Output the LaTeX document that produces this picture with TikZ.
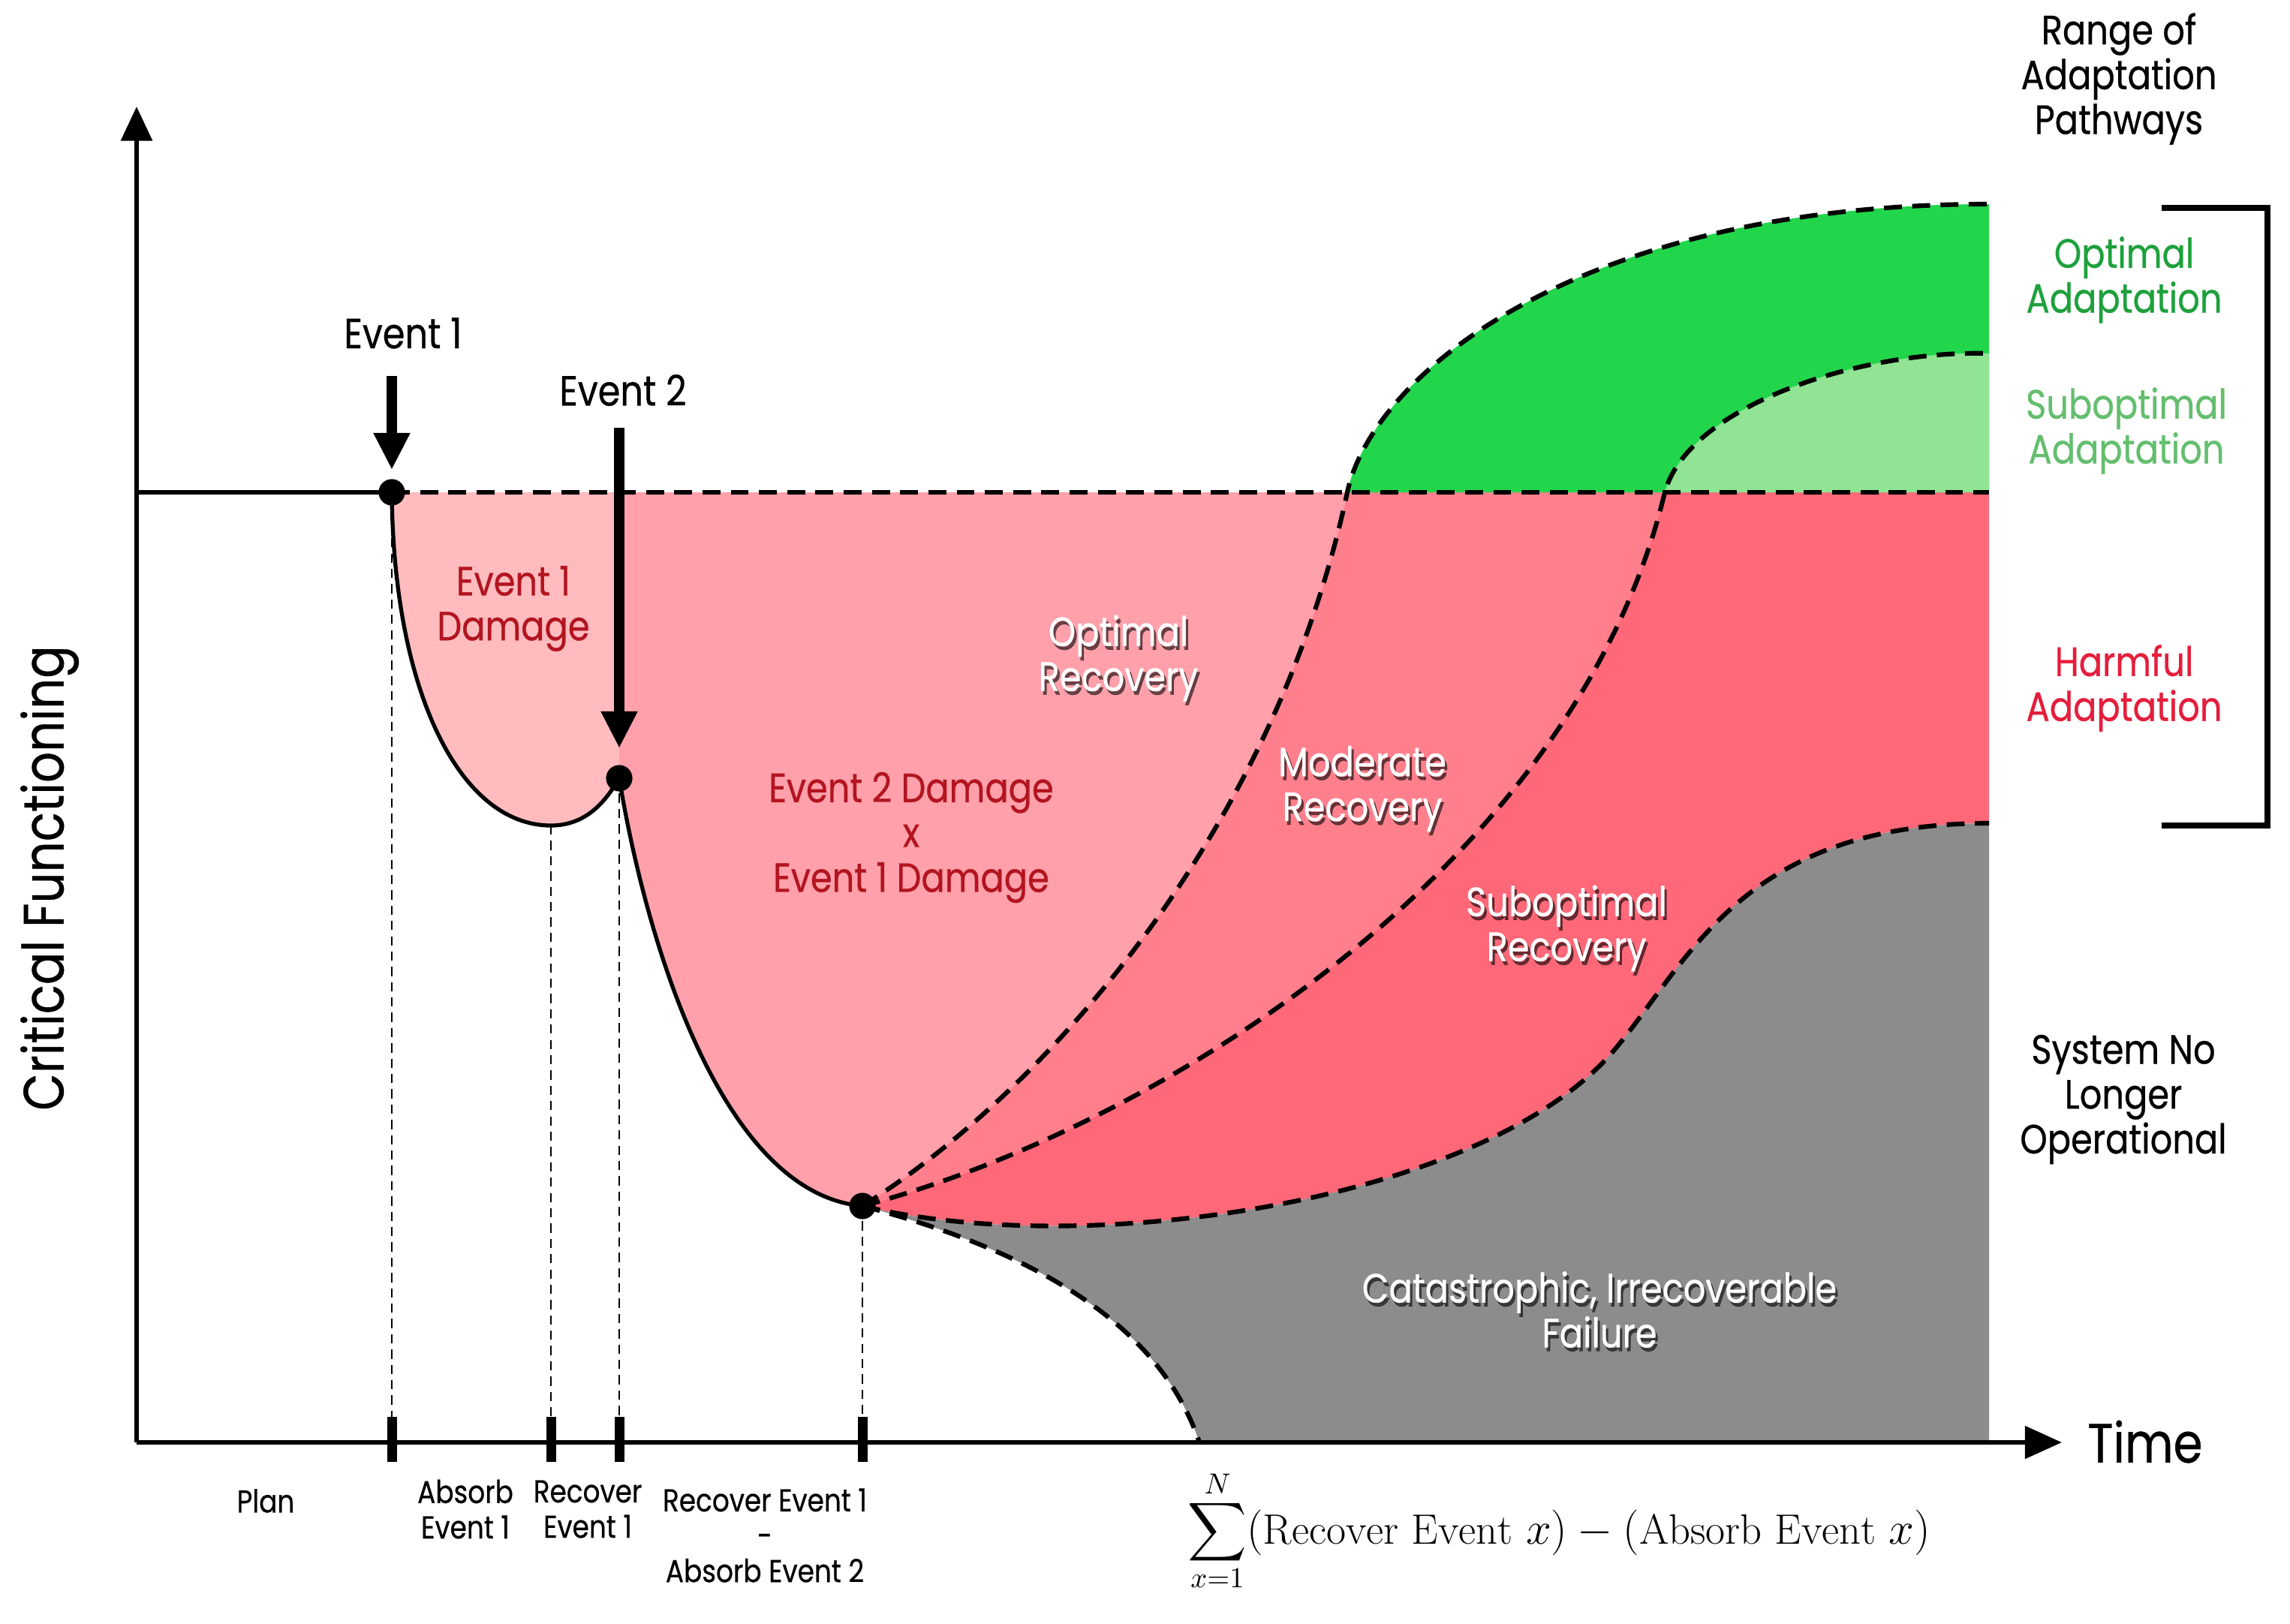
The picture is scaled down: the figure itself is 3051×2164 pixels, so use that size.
\documentclass[tikz,border=0pt]{standalone}
\usepackage{fontspec}
\newfontfamily\fut[FakeStretch=0.85,FakeBold=0.5]{Poppins}
\usetikzlibrary{arrows.meta,calc}
\definecolor{pinkA}{RGB}{255,187,190}
\definecolor{pinkB}{RGB}{255,160,170}
\definecolor{pinkC}{RGB}{255,128,140}
\definecolor{pinkD}{RGB}{255,104,120}
\definecolor{greenA}{RGB}{34,214,76}
\definecolor{greenB}{RGB}{144,228,148}
\definecolor{greyA}{RGB}{140,140,140}
\definecolor{dred}{RGB}{178,20,32}
\definecolor{hred}{RGB}{228,30,60}
\definecolor{ogreen}{RGB}{30,160,60}
\definecolor{sgreen}{RGB}{100,190,110}
\newcommand\shadowlabel[3]{%
  \node[wtxt,text=black,opacity=0.6] (#1s) at ($(#2)+(3,5)$) {#3};
  \node[wtxt] (#1) at (#2) {#3};}
\begin{document}
\begin{tikzpicture}[x=0.01cm,y=-0.01cm,
  txt/.style={font=\fut\fontsize{15.5}{17}\selectfont,align=center,inner sep=0pt},
  wtxt/.style={txt,text=white},
  small/.style={font=\fut\fontsize{12}{13.4}\selectfont,align=center,inner sep=0pt},
  dcurve/.style={line width=1.75pt,dash pattern=on 6.8pt off 3.9pt},
  scurve/.style={line width=1.5pt},
  vguide/.style={line width=0.7pt,dash pattern=on 3.5pt off 2.3pt},
  axisline/.style={line width=1.7pt},
  tickmark/.style={line width=3.7pt},
  evarrow/.style={line width=4pt,-{Triangle[width=13pt,length=14pt]}},
  pt/.style={circle,fill=black,inner sep=0pt,minimum size=10pt}]
\useasboundingbox (0,0) rectangle (3051,2164);
% coordinates
\coordinate (B0) at (182,656);
\coordinate (X0) at (182,1922);
\coordinate (Ytip) at (182,142);
\coordinate (Xtip) at (2747,1922);
\coordinate (E1c) at (522,656);
\coordinate (Emin) at (734,1100);
\coordinate (E2c) at (825,1037);
\coordinate (E2top) at (825,656);
\coordinate (E3c) at (1149,1607);
\coordinate (O) at (1795,656);
\coordinate (OT) at (2650,272);
\coordinate (M) at (2218,656);
\coordinate (MT) at (2650,471);
\coordinate (SI) at (2150,1400);
\coordinate (S) at (2650,1097);
\coordinate (RB) at (2650,656);
\coordinate (RX) at (2650,1922);
\coordinate (C) at (1598,1922);
% fills
\fill[pinkA] (E1c) .. controls (524,920) and (612,1100) .. (Emin)
  .. controls (785,1100) and (810,1062) .. (E2c) -- (E2top) -- cycle;
\fill[pinkB] (E2top) -- (E2c) .. controls (860,1250) and (960,1590) .. (E3c)
  .. controls (1400,1450) and (1700,1100) .. (O) -- cycle;
\fill[pinkC] (E3c) .. controls (1400,1450) and (1700,1100) .. (O) -- (M)
  .. controls (2100,1150) and (1550,1500) .. (E3c) -- cycle;
\fill[pinkD] (E3c) .. controls (1550,1500) and (2100,1150) .. (M) -- (RB) -- (S)
  .. controls (2320,1097) and (2250,1282) .. (SI)
  .. controls (1980,1600) and (1450,1680) .. (E3c) -- cycle;
\fill[greyA] (E3c) .. controls (1450,1680) and (1980,1600) .. (SI)
  .. controls (2250,1282) and (2320,1097) .. (S) -- (RX) -- (C)
  .. controls (1540,1750) and (1350,1660) .. (E3c) -- cycle;
\fill[greenA] (O) .. controls (1828,501) and (2100,272) .. (OT) -- (RB) -- cycle;
\fill[greenB] (M) .. controls (2250,540) and (2480,466) .. (MT) -- (RB) -- cycle;
% dashed curves
\draw[dcurve] (E1c) -- (RB);
\draw[dcurve] (E3c) .. controls (1400,1450) and (1700,1100) .. (O)
  .. controls (1828,501) and (2100,272) .. (OT);
\draw[dcurve] (E3c) .. controls (1550,1500) and (2100,1150) .. (M)
  .. controls (2250,540) and (2480,466) .. (MT);
\draw[dcurve] (E3c) .. controls (1450,1680) and (1980,1600) .. (SI)
  .. controls (2250,1282) and (2320,1097) .. (S);
\draw[dcurve] (E3c) .. controls (1350,1660) and (1540,1750) .. (C);
% solid curves
\draw[scurve] (B0) -- (E1c);
\draw[scurve] (E1c) .. controls (524,920) and (612,1100) .. (Emin)
  .. controls (785,1100) and (810,1062) .. (E2c)
  .. controls (860,1250) and (960,1590) .. (E3c);
% guides
\draw[vguide] (E1c) -- (E1c |- X0);
\draw[vguide] (Emin) -- (Emin |- X0);
\draw[vguide] (E2c) -- (E2c |- X0);
\draw[vguide] (E3c) -- (E3c |- X0);
% axes
\draw[axisline,-{Triangle[width=11.7pt,length=13pt]}] (X0) -- (Ytip);
\draw[axisline,-{Triangle[width=12.2pt,length=14pt]}] (X0) -- (Xtip);
\foreach \c in {E1c,Emin,E2c,E3c}
  \draw[tickmark] ($(\c |- X0)+(0,-34)$) -- ($(\c |- X0)+(0,26)$);
% points
\node[pt] (E1) at (E1c) {};
\node[pt] (E2) at (E2c) {};
\node[pt] (E3) at (E3c) {};
% event arrows
\coordinate (A1s) at (522,501);
\coordinate (A1e) at (522,626);
\coordinate (A2s) at (825,570);
\coordinate (A2e) at (825,997);
\draw[evarrow] (A1s) -- (A1e);
\draw[evarrow] (A2s) -- (A2e);
% bracket
\coordinate (K1) at (2880,277);
\coordinate (K2) at (3021,277);
\coordinate (K3) at (3021,1100);
\coordinate (K4) at (2880,1100);
\draw[line width=2.5pt] (K1) -- (K2) -- (K3) -- (K4);
% labels
\node[txt] (ev1) at (537,444) {\fontsize{16}{18}\selectfont Event 1};
\node[txt] (ev2) at (830,520) {\fontsize{16}{18}\selectfont Event 2};
\node[txt,text=dred] (d1) at (684,811) {Event 1\\Damage};
\node[txt,text=dred] (d2) at (1214,1116) {Event 2 Damage\\x\\Event 1 Damage};
\shadowlabel{optr}{1490,877}{Optimal\\Recovery}
\shadowlabel{modr}{1815,1051}{Moderate\\Recovery}
\shadowlabel{subr}{2087,1237}{Suboptimal\\Recovery}
\shadowlabel{catf}{2131,1745}{Catastrophic, Irrecoverable\\Failure}
\node[txt] (range) at (2823,105) {Range of\\Adaptation\\Pathways};
\node[txt,text=ogreen] (opta) at (2830,373) {Optimal\\Adaptation};
\node[txt,text=sgreen] (suba) at (2833,574) {Suboptimal\\Adaptation};
\node[txt,text=hred] (harm) at (2830,917) {Harmful\\Adaptation};
\node[txt] (sys) at (2829,1465) {System No\\Longer\\Operational};
\node[txt,rotate=90,font=\fut\fontsize{21.5}{24}\selectfont] (yl) at (66,1170) {Critical Functioning};
\node[txt,font=\fut\fontsize{21}{24}\selectfont] (xl) at (2858,1921) {Time};
\node[small] (plan) at (354,2000) {Plan};
\node[small] (abs1) at (620,2011) {Absorb\\Event 1};
\node[small] (rec1) at (783,2011) {Recover\\Event 1};
\node[small] (rec12) at (1019,2046) {Recover Event 1\\-\\Absorb Event 2};
\node[inner sep=0pt,anchor=west,font=\fontsize{16.1}{19}\selectfont] (form) at (1582,2040)
  {$\displaystyle\mathop{\raisebox{-0.3ex}{\scalebox{1.55}{$\displaystyle\sum$}}}\limits_{x=1}^{N}(\mathrm{Recover\ Event\ }x)-(\mathrm{Absorb\ Event\ }x)$};
\end{tikzpicture}
\end{document}
